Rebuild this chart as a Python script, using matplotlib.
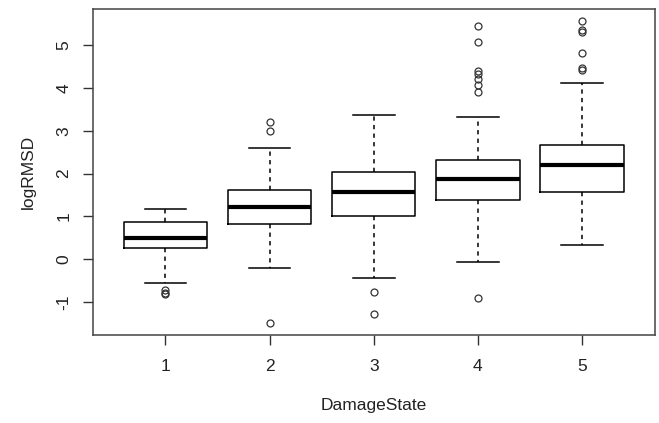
import matplotlib.pyplot as plt

plt.rcParams['font.family'] = ['Liberation Sans', 'DejaVu Sans']
plt.rcParams['axes.unicode_minus'] = False

states = [1, 2, 3, 4, 5]
q1 = [0.26, 0.83, 1.01, 1.38, 1.56]
med = [0.50, 1.21, 1.58, 1.87, 2.20]
q3 = [0.86, 1.61, 2.04, 2.33, 2.66]
wlo = [-0.56, -0.21, -0.44, -0.06, 0.33]
whi = [1.18, 2.60, 3.36, 3.33, 4.11]
outliers = [
    [-0.71, -0.78, -0.82],
    [3.20, 3.00, -1.48],
    [-0.76, -1.28],
    [5.46, 5.08, 4.39, 4.34, 4.20, 4.06, 3.91, -0.91],
    [5.56, 5.35, 5.32, 4.83, 4.46, 4.43],
]

stats = []
for i in range(len(states)):
    stats.append(dict(q1=q1[i], med=med[i], q3=q3[i],
                      whislo=wlo[i], whishi=whi[i], fliers=outliers[i]))

fig = plt.figure(figsize=(6.59, 4.23), dpi=100)
ax = fig.add_axes([0.1404, 0.208, 0.8535, 0.770])

ax.bxp(stats, positions=states, widths=0.8, patch_artist=False,
       boxprops=dict(color='black', linewidth=1.1),
       medianprops=dict(color='black', linewidth=3.0, solid_capstyle='butt'),
       whiskerprops=dict(color='black', linewidth=1.1, linestyle=(0, (2.8, 2.8))),
       capprops=dict(color='black', linewidth=1.1),
       capwidths=0.4,
       flierprops=dict(marker='o', markersize=5.0, markerfacecolor='none',
                       markeredgecolor='#333333', markeredgewidth=0.9))

ax.set_xlim(0.3, 5.7)
ax.set_ylim(-1.77, 5.84)
ax.set_xticks(states)
ax.set_xticklabels([str(s) for s in states])
ax.set_yticks([-1, 0, 1, 2, 3, 4, 5])
for lab in ax.get_yticklabels():
    lab.set_rotation(90)
    lab.set_va('center')

ax.tick_params(direction='out', length=7.2, width=1.0, colors='#333333',
               labelcolor='#222222', labelsize=12.5)
ax.tick_params(axis='x', pad=10)
ax.tick_params(axis='y', pad=8)
for sp in ax.spines.values():
    sp.set_color('#444444')
    sp.set_linewidth(1.1)

ax.set_xlabel('DamageState', fontsize=12.5, color='#222222', labelpad=17)
ax.set_ylabel('logRMSD', fontsize=12.5, color='#222222', labelpad=14.5)

fig.savefig('out.png', dpi=100)
